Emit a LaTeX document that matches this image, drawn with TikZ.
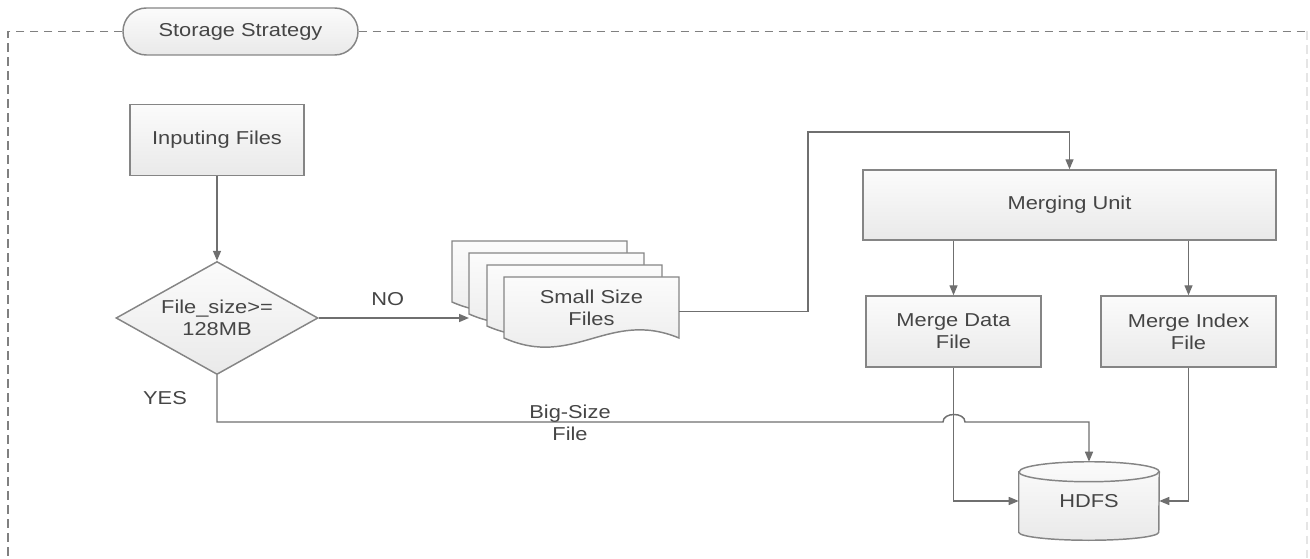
\documentclass[tikz,border=0pt]{standalone}
\usepackage{fontspec}
\setmainfont{Liberation Sans}[FakeStretch=1.17]
\usetikzlibrary{arrows.meta,shapes.geometric,calc}
\definecolor{lc}{HTML}{6F6F6F}
\definecolor{bc}{HTML}{858585}
\definecolor{tc}{HTML}{454545}
\newcommand\docshape[2]{\path[box] (#1,#2) -- (#1+175,#2) -- (#1+175,#2+61) .. controls (#1+105,#2+32) and (#1+70,#2+92) .. (#1,#2+61) -- cycle;}
\begin{document}
\begin{tikzpicture}[x=0.75pt,y=-0.75pt,
 every node/.style={font=\fontsize{14}{16.5}\selectfont, text=tc, align=center},
 box/.style={draw=bc, line width=1.1pt, top color=gray!3, bottom color=gray!17, inner sep=0pt},
 sz/.style 2 args={minimum width={#1*0.75pt}, minimum height={#2*0.75pt}},
 arr/.style={draw=lc, line width=1.1pt, -{Triangle[length=7.5pt,width=6pt]}},
 ln/.style={draw=lc, line width=1.1pt},
 frame/.style={draw=gray, line width=0.9pt, dash pattern=on 6.5pt off 4pt}]
\useasboundingbox (0,0) rectangle (1310,559);

% title and frame
\node[box, rounded corners=17.5pt, sz={235}{47}] (title) at (240.5,31.5) {Storage Strategy};
\draw[frame] (title.west) -- (8,31.5) -- (8,559);
\draw[frame] (title.east) -- (1310,31.5);
\draw[frame, draw=gray!20] (1307,31.5) -- (1307,559);

% nodes
\node[box, sz={174}{71}] (inp) at (217,140) {Inputing Files};
\node[box, diamond, aspect=1.79, sz={202}{113}] (dec) at (217,318) {File\_size>=\\128MB};

\docshape{452}{241}
\docshape{469}{253}
\docshape{487}{265}
\docshape{504}{277}
\node[sz={175}{61}, inner sep=0pt] (ssf) at (591.5,307.5) {Small Size\\Files};
\coordinate (noend) at (469,318);

\node[box, sz={413}{70}] (mu) at (1069.5,205) {Merging Unit};
\node[box, sz={175}{71}] (mdf) at (953.5,331.5) {Merge Data\\File};
\node[box, sz={175}{71}] (mif) at (1188.5,331.5) {Merge Index\\File};

\node[sz={140}{78}, inner sep=0pt] (hdfs) at (1089,501) {};
\path[box] (hdfs.north west) ++(0,10) coordinate (cyl1) -- ($(hdfs.south west)+(0,-8)$)
  arc[start angle=180, end angle=360, x radius=70, y radius=-8] -- ($(hdfs.north east)+(0,10)$)
  arc[start angle=0, end angle=180, x radius=70, y radius=-10] -- cycle;
\draw[draw=bc, line width=1.1pt] (cyl1) arc[start angle=180, end angle=360, x radius=70, y radius=-10];
\node at (hdfs.center) {HDFS};

% connectors
\draw[arr] (inp.south) -- (dec.north);
\draw[arr] (dec.east) -- (noend) node[pos=0.46, above=5pt] {NO};
\draw[arr] ($(ssf.east)+(0,4)$) -| (808,132) -| (mu.north);
\draw[arr] (mu.south -| mdf.north) -- (mdf.north);
\draw[arr] (mu.south -| mif.north) -- (mif.north);
\draw[arr] (mdf.south) |- (hdfs.west);
\draw[arr] (mif.south) |- (hdfs.east);
\draw[arr] (dec.south) -- (217,422) -- (943,422) .. controls (943,412) and (965,412) .. (965,422) -| (hdfs.north);
\node at (165,398) {YES};
\node at (570,423) {Big-Size\\File};
\end{tikzpicture}
\end{document}
